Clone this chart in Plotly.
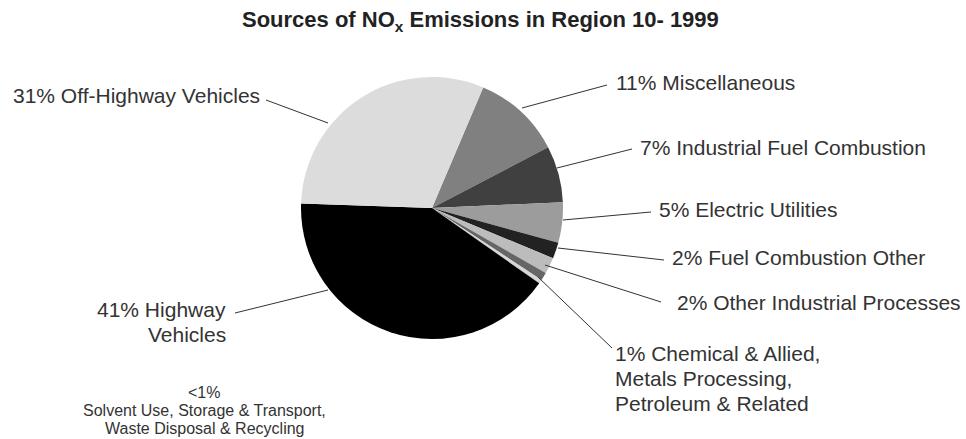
import plotly.graph_objects as go

# NOx emission sources, Region 10, 1999 (percent of total)
categories = [
    "Miscellaneous",
    "Industrial Fuel Combustion",
    "Electric Utilities",
    "Fuel Combustion Other",
    "Other Industrial Processes",
    "Chemical & Allied, Metals Processing, Petroleum & Related",
    "Solvent Use, Storage & Transport, Waste Disposal & Recycling",
    "Highway Vehicles",
    "Off-Highway Vehicles",
]
values = [11, 7, 5, 2, 2, 1, 0.5, 41, 31]
label_texts = [
    "11% Miscellaneous",
    "7% Industrial Fuel Combustion",
    "5% Electric Utilities",
    "2% Fuel Combustion Other",
    "2% Other Industrial Processes",
    "1% Chemical & Allied,<br>Metals Processing,<br>Petroleum & Related",
    "<1%<br>Solvent Use, Storage & Transport,<br>Waste Disposal & Recycling",
    "41% Highway<br>Vehicles",
    "31% Off-Highway Vehicles",
]
slice_colors = ["#808080", "#404040", "#9c9c9c", "#222222", "#bcbcbc",
                "#666666", "#d6d6d6", "#000000", "#dcdcdc"]

W, H = 966, 439
CX, CY, R = 432, 208, 131  # pie centre and radius in pixels
FONT = "Liberation Sans, Arial, sans-serif"


def px(x):
    return x / W


def py(y):
    return 1 - y / H


# label block anchor (x, centre y, xanchor, font size, line pitch) and leader line, pixels
label_layout = [
    (614, 82, "left", 21, 25, (522, 108, 607, 85)),
    (638, 147, "left", 21, 25, (557, 168, 632, 149)),
    (657, 209, "left", 21, 25, (563, 220, 651, 212)),
    (670, 257, "left", 21, 25, (558, 248, 664, 260)),
    (675, 302, "left", 21, 25, (545, 265, 661, 302)),
    (613, 378, "left", 21, 25, (538, 277, 612, 348)),
    (204, 410.5, "center", 16, 18, None),
    (228, 322, "right", 21, 25, (235, 313, 328, 290)),
    (262, 95, "right", 21, 25, (266, 100, 328, 123)),
]

fig = go.Figure(
    go.Pie(
        labels=categories,
        values=values,
        sort=False,
        direction="clockwise",
        rotation=23,
        marker=dict(colors=slice_colors, line=dict(width=0)),
        textinfo="none",
        hoverinfo="label+percent",
        showlegend=False,
        domain=dict(x=[px(CX - R), px(CX + R)], y=[py(CY + R), py(CY - R)]),
    )
)

annotations = []
shapes = []
for text, (x, cy, xa, fs, pitch, line) in zip(label_texts, label_layout):
    rows = text.split("<br>")
    n = len(rows)
    for i, row in enumerate(rows):
        annotations.append(dict(
            x=px(x), y=py(cy + (i - (n - 1) / 2) * pitch),
            xref="paper", yref="paper",
            text=row, showarrow=False, xanchor=xa, yanchor="middle",
            font=dict(family=FONT, size=fs, color="#333333"),
        ))
    if line:
        x0, y0, x1, y1 = line
        shapes.append(dict(
            type="line", xref="paper", yref="paper",
            x0=px(x0), y0=py(y0), x1=px(x1), y1=py(y1),
            line=dict(color="#333333", width=1),
        ))

annotations.append(dict(
    x=px(480), y=py(21), xref="paper", yref="paper",
    text="<b>Sources of NO<sub>x</sub> Emissions in Region 10- 1999</b>",
    showarrow=False, xanchor="center", yanchor="middle",
    font=dict(family=FONT, size=22, color="#222222"),
))

fig.update_layout(
    width=W, height=H,
    margin=dict(l=0, r=0, t=0, b=0),
    paper_bgcolor="white", plot_bgcolor="white",
    annotations=annotations, shapes=shapes,
)

fig.write_html("out.html")
